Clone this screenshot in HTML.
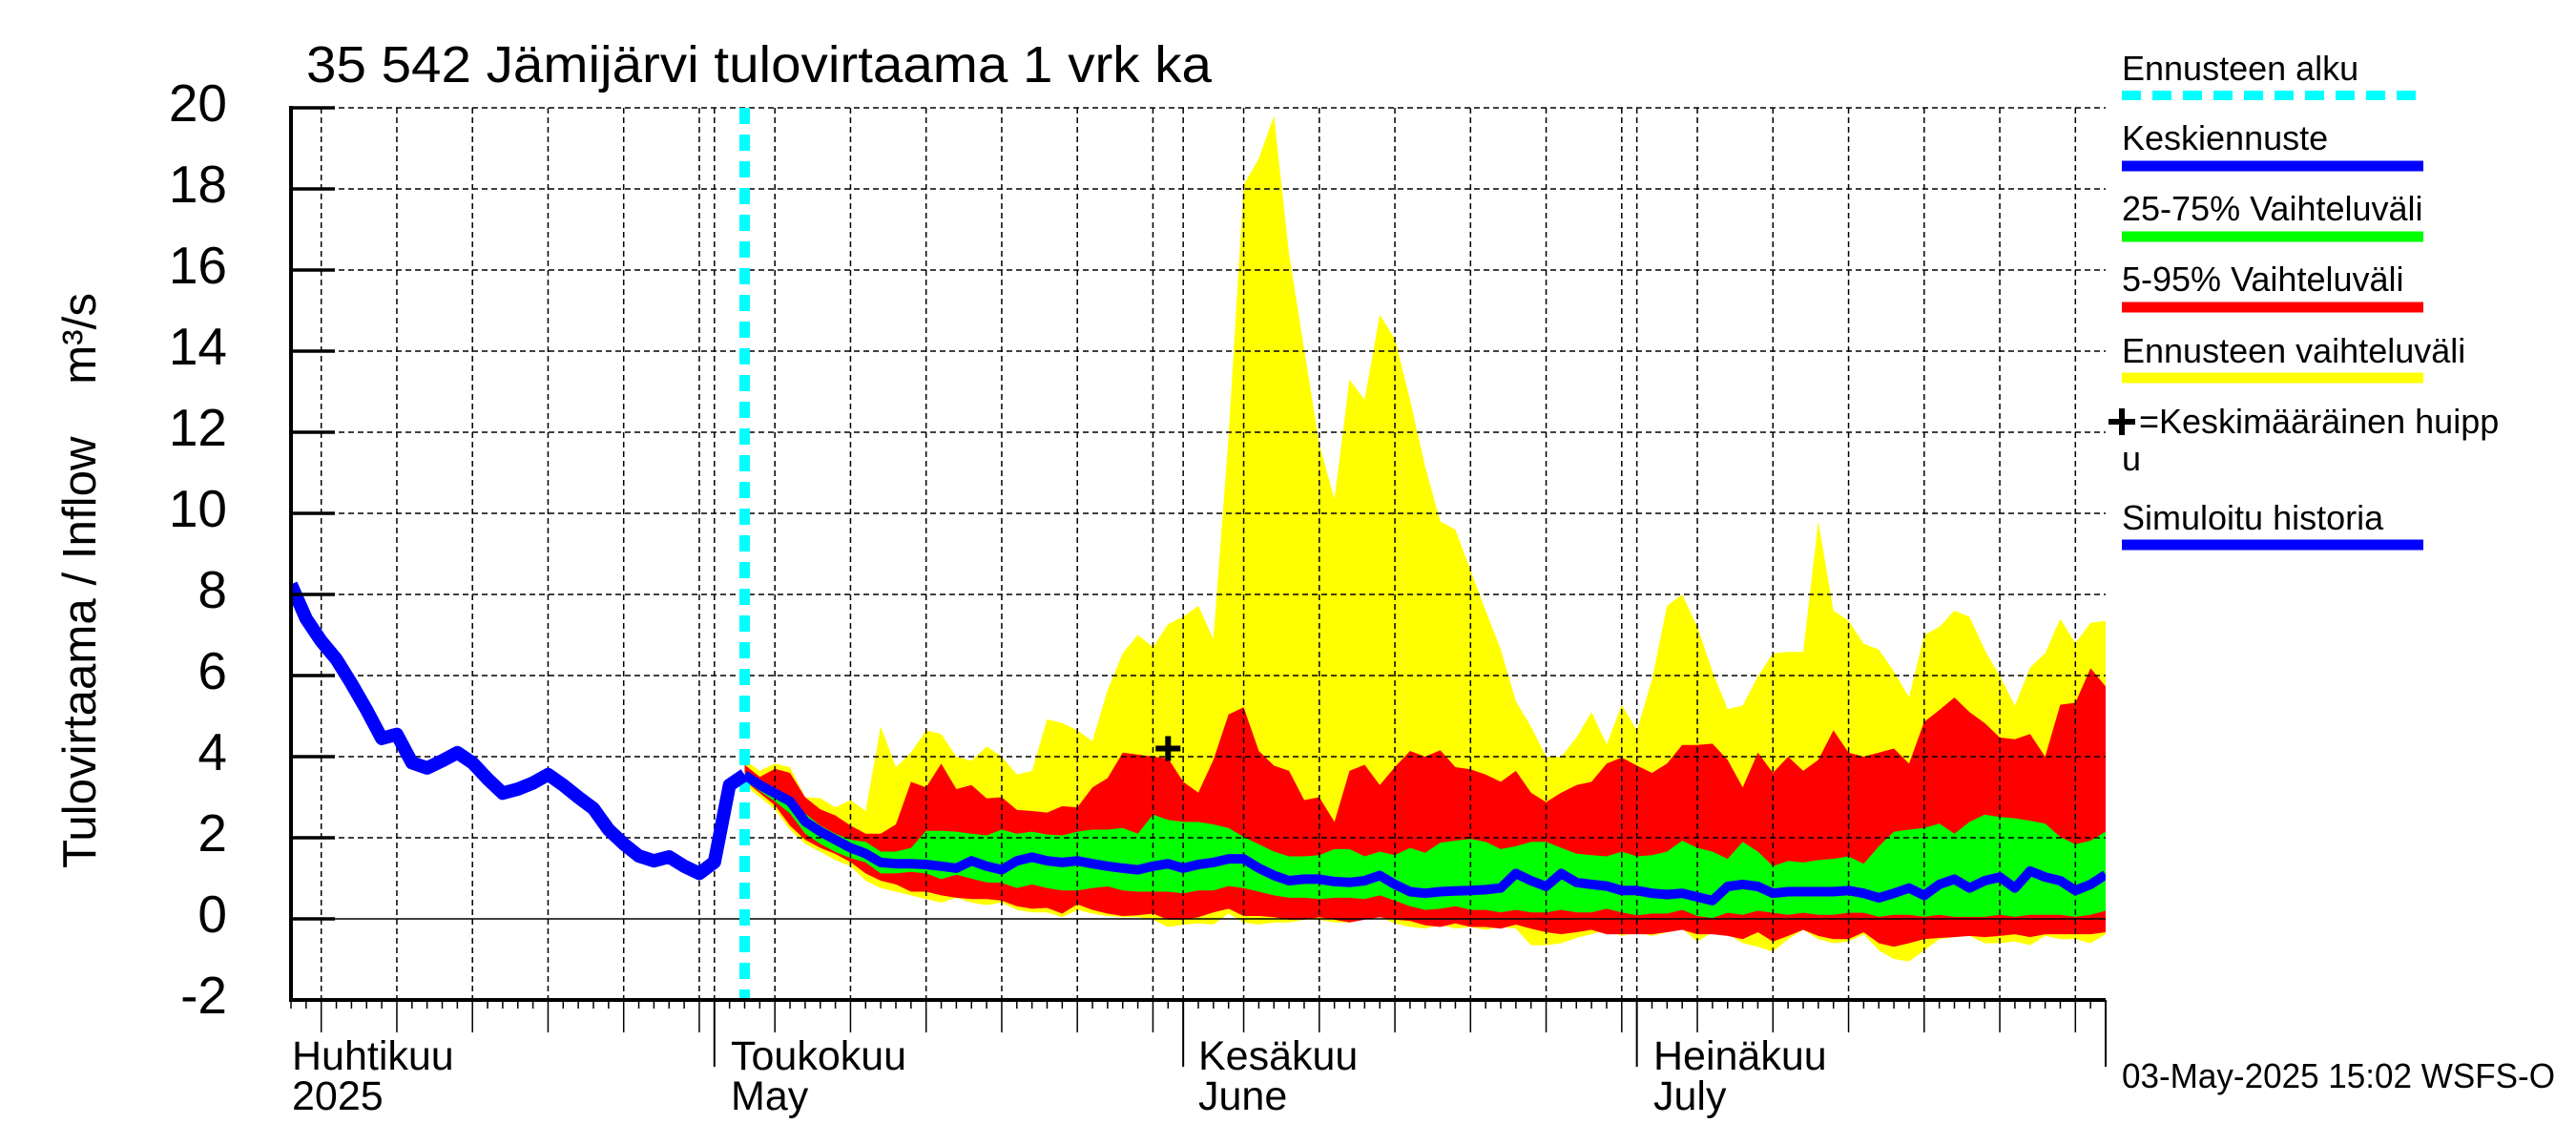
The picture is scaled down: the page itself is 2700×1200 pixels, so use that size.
<!DOCTYPE html>
<html><head><meta charset="utf-8"><style>
html,body{margin:0;padding:0;background:#fff;}
svg{display:block;font-family:"Liberation Sans",Arial,sans-serif;}
</style></head><body>
<svg id="chart" width="2700" height="1200" viewBox="0 0 2700 1200" xmlns="http://www.w3.org/2000/svg">
<defs><clipPath id="plotclip"><rect x="305" y="113" width="1902" height="935"/></clipPath></defs>
<rect x="0" y="0" width="2700" height="1200" fill="#fff"/>
<text x="321" y="86" font-size="54" textLength="949" lengthAdjust="spacingAndGlyphs">35 542 Jämijärvi tulovirtaama 1 vrk ka</text>
<text transform="translate(100,910) rotate(-90)" font-size="49" textLength="603" lengthAdjust="spacingAndGlyphs" xml:space="preserve">Tulovirtaama / Inflow    m³/s</text>
<g id="bands" clip-path="url(#plotclip)"></g>
<g id="grid"></g>
<g id="lines" clip-path="url(#plotclip)"></g>
<g id="axes"></g>
<g id="legend">
 <text x="2224" y="84" font-size="36">Ennusteen alku</text>
 <line x1="2224" y1="100" x2="2540" y2="100" stroke="#00ffff" stroke-width="10" stroke-dasharray="20,12"/>
 <text x="2224" y="157" font-size="36">Keskiennuste</text>
 <line x1="2224" y1="174" x2="2540" y2="174" stroke="#0000ff" stroke-width="11"/>
 <text x="2224" y="231" font-size="36">25-75% Vaihteluväli</text>
 <line x1="2224" y1="248" x2="2540" y2="248" stroke="#00ff00" stroke-width="11"/>
 <text x="2224" y="305" font-size="36">5-95% Vaihteluväli</text>
 <line x1="2224" y1="322" x2="2540" y2="322" stroke="#ff0000" stroke-width="11"/>
 <text x="2224" y="380" font-size="36">Ennusteen vaihteluväli</text>
 <line x1="2224" y1="396" x2="2540" y2="396" stroke="#ffff00" stroke-width="11"/>
 <path d="M2210 442 H2238 M2224 428 V456" stroke="#000" stroke-width="6"/>
 <text x="2242" y="454" font-size="36">=Keskimääräinen huipp</text>
 <text x="2224" y="493" font-size="36">u</text>
 <text x="2224" y="555" font-size="36">Simuloitu historia</text>
 <line x1="2224" y1="571" x2="2540" y2="571" stroke="#0000ff" stroke-width="11"/>
</g>
<text x="2224" y="1140" font-size="36" textLength="454" lengthAdjust="spacingAndGlyphs">03-May-2025 15:02 WSFS-O</text>
<text x="306" y="1121" font-size="43">Huhtikuu</text>
<text x="306" y="1163" font-size="43">2025</text>
<text x="766" y="1121" font-size="43">Toukokuu</text>
<text x="766" y="1163" font-size="43">May</text>
<text x="1256" y="1121" font-size="43">Kesäkuu</text>
<text x="1256" y="1163" font-size="43">June</text>
<text x="1733" y="1121" font-size="43">Heinäkuu</text>
<text x="1733" y="1163" font-size="43">July</text>
</svg>
<script>
// day index: 0 = 1 May 2025
const yTicks = [-2,0,2,4,6,8,10,12,14,16,18,20];
const histStart = -28;
const history = [8.25,7.4,6.85,6.4,5.8,5.15,4.45,4.55,3.85,3.72,3.9,4.1,3.85,3.45,3.1,3.2,3.35,3.56,3.3,3.0,2.72,2.2,1.85,1.55,1.43,1.53,1.3,1.12,1.4,3.3,3.55];
const fcStart = 2;
const fcMax = [3.92,3.65,3.83,3.74,3.0,2.98,2.75,2.93,
2.66,4.74,3.74,4.1,4.65,4.56,4.0,3.9,4.25,4.0,
3.56,3.65,4.92,4.83,4.65,4.38,5.64,6.55,7.0,6.7,
7.27,7.45,7.72,6.9,11.9,18.1,18.75,19.8,16.4,14.05,
11.7,10.35,13.3,12.8,14.9,14.3,12.8,11.15,9.8,9.6,
8.6,7.6,6.64,5.37,4.74,4.0,4.0,4.47,5.1,4.3,
5.28,4.65,5.9,7.72,8.0,7.2,6.1,5.17,5.26,5.98,
6.55,6.58,6.58,9.8,7.6,7.35,6.78,6.64,6.1,5.46,
7.0,7.2,7.6,7.45,6.64,5.98,5.26,6.2,6.55,7.4,
6.8,7.3,7.35];
const fcP95 = [3.8,3.5,3.7,3.6,3.0,2.7,2.55,2.3,
2.1,2.1,2.33,3.38,3.24,3.83,3.2,3.3,2.97,3.0,
2.69,2.66,2.62,2.78,2.75,3.24,3.47,4.1,4.05,4.0,
3.96,3.38,3.11,3.92,5.04,5.22,4.14,3.78,3.65,2.93,
3.0,2.39,3.65,3.8,3.3,3.74,4.14,4.0,4.16,3.74,
3.69,3.56,3.38,3.65,3.11,2.88,3.11,3.3,3.38,3.83,
3.98,3.78,3.6,3.83,4.29,4.29,4.32,3.92,3.24,4.1,
3.6,4.0,3.65,3.92,4.65,4.1,4.0,4.1,4.2,3.83,
4.86,5.15,5.46,5.1,4.83,4.47,4.43,4.56,4.0,5.28,
5.33,6.18,5.73];
const fcP75 = [3.6,3.35,3.2,3.0,2.6,2.3,2.1,1.95,
1.9,1.66,1.66,1.75,2.17,2.17,2.15,2.1,2.06,2.2,
2.1,2.15,2.08,2.06,2.15,2.2,2.2,2.24,2.1,2.57,
2.44,2.39,2.39,2.33,2.24,2.02,1.84,1.66,1.54,1.54,
1.57,1.72,1.72,1.54,1.66,1.57,1.75,1.63,1.88,1.93,
1.97,1.9,1.72,1.79,1.9,1.9,1.75,1.61,1.57,1.54,
1.66,1.54,1.57,1.66,1.93,1.75,1.66,1.48,1.9,1.66,
1.3,1.43,1.39,1.45,1.48,1.54,1.36,1.79,2.15,2.2,
2.24,2.35,2.1,2.39,2.57,2.51,2.48,2.42,2.35,2.02,
1.84,1.93,2.15];
const fcMean = [3.55,3.3,3.1,2.9,2.4,2.15,1.95,1.75,
1.61,1.39,1.36,1.36,1.34,1.3,1.25,1.43,1.3,1.21,
1.43,1.52,1.43,1.39,1.43,1.36,1.3,1.25,1.21,1.3,
1.36,1.25,1.34,1.39,1.48,1.48,1.25,1.07,0.94,0.98,
0.98,0.92,0.9,0.94,1.07,0.85,0.67,0.63,0.67,0.69,
0.7,0.72,0.76,1.12,0.94,0.8,1.12,0.9,0.85,0.81,
0.7,0.7,0.63,0.6,0.63,0.54,0.45,0.8,0.85,0.8,
0.63,0.67,0.67,0.67,0.67,0.7,0.63,0.52,0.63,0.76,
0.58,0.85,0.98,0.76,0.94,1.03,0.76,1.18,1.03,0.94,
0.7,0.85,1.09];
const fcP25 = [3.4,3.15,2.9,2.6,2.1,1.85,1.65,1.5,
1.39,1.12,1.12,1.16,1.12,0.98,1.09,0.99,0.9,0.89,
0.76,0.85,0.76,0.7,0.7,0.76,0.8,0.7,0.67,0.67,
0.67,0.63,0.7,0.7,0.81,0.76,0.67,0.58,0.52,0.52,
0.49,0.52,0.52,0.49,0.58,0.45,0.31,0.22,0.25,0.31,
0.22,0.22,0.16,0.22,0.16,0.16,0.22,0.16,0.16,0.25,
0.16,0.09,0.13,0.13,0.22,0.07,0.02,0.15,0.1,0.2,
0.15,0.1,0.15,0.1,0.1,0.15,0.15,0.05,0.1,0.1,
0.05,0.1,0.05,0.05,0.05,0.1,0.05,0.1,0.1,0.1,
0.05,0.1,0.2];
const fcP5 = [3.4,3.1,2.8,2.3,1.95,1.75,1.6,1.4,
1.12,0.94,0.85,0.67,0.67,0.58,0.52,0.49,0.49,0.45,
0.31,0.25,0.27,0.13,0.36,0.22,0.13,0.07,0.09,0.13,
-0.02,-0.02,0.04,0.16,0.25,0.07,0.07,0.04,-0.02,-0.02,
0.04,-0.02,-0.09,-0.02,0.04,-0.02,-0.05,-0.16,-0.2,-0.11,
-0.2,-0.2,-0.24,-0.14,-0.24,-0.33,-0.38,-0.33,-0.27,-0.38,
-0.38,-0.38,-0.38,-0.33,-0.27,-0.38,-0.38,-0.42,-0.5,-0.33,
-0.56,-0.42,-0.27,-0.42,-0.5,-0.5,-0.33,-0.6,-0.69,-0.6,
-0.5,-0.47,-0.45,-0.42,-0.45,-0.42,-0.38,-0.45,-0.38,-0.38,
-0.38,-0.38,-0.33];
const fcMin = [3.3,3.0,2.7,2.2,1.85,1.65,1.45,1.3,
0.94,0.76,0.67,0.58,0.49,0.4,0.52,0.4,0.34,0.4,
0.22,0.16,0.16,0.04,0.22,0.13,0.07,0.04,0.04,-0.02,
-0.2,-0.14,-0.11,-0.14,0.13,-0.09,-0.14,-0.09,-0.09,-0.02,
-0.02,-0.09,-0.09,0.04,0.04,-0.11,-0.2,-0.24,-0.14,-0.24,
-0.2,-0.27,-0.2,-0.24,-0.65,-0.65,-0.6,-0.47,-0.38,-0.27,
-0.42,-0.33,-0.42,-0.33,-0.24,-0.56,-0.33,-0.38,-0.6,-0.69,
-0.81,-0.5,-0.27,-0.5,-0.6,-0.56,-0.38,-0.78,-0.99,-1.05,
-0.78,-0.5,-0.45,-0.42,-0.6,-0.6,-0.56,-0.65,-0.42,-0.5,
-0.5,-0.6,-0.38];
const peakDay = 30;
const peakValue = 4.2;
const forecastStartDay = 2;
const monthStarts = [0,31,61,92];

const X0 = 305, X1 = 2207, Y0 = 1048, Y1 = 113, DMIN = -28, DMAX = 92, VMIN = -2, VMAX = 20;
function xs(d){ return X0 + (d - DMIN) * (X1 - X0) / (DMAX - DMIN); }
function ys(v){ return Y0 - (v - VMIN) * (Y0 - Y1) / (VMAX - VMIN); }
const NS = 'http://www.w3.org/2000/svg';
function mk(tag, attrs, parent){ const e = document.createElementNS(NS, tag); for (const k in attrs) e.setAttribute(k, attrs[k]); parent.appendChild(e); return e; }

const bands = document.getElementById('bands');
function band(upper, lower, color, name){
  let pts = [];
  upper.forEach((v,i)=>pts.push(xs(fcStart+i).toFixed(1)+','+ys(v).toFixed(1)));
  for (let i = lower.length-1; i >= 0; i--) pts.push(xs(fcStart+i).toFixed(1)+','+ys(lower[i]).toFixed(1));
  const p = mk('polygon', {points: pts.join(' '), fill: color}, bands);
  
  
}
band(fcMax, fcMin, '#ffff00', 'forecast-range-band');
band(fcP95, fcP5, '#ff0000', 'band-5-95');
band(fcP75, fcP25, '#00ff00', 'band-25-75');

const grid = document.getElementById('grid');
const gridDays = [];
const months = [{s:-30,len:30},{s:0,len:31},{s:31,len:30},{s:61,len:31}];
months.forEach(m=>{ [5,10,15,20,25,30].forEach(dd=>{ if (dd<=m.len) gridDays.push(m.s+dd-1); }); gridDays.push(m.s); });
gridDays.forEach(d=>{
  if (d <= DMIN || d >= DMAX) return;
  const l = mk('line', {x1: xs(d), x2: xs(d), y1: Y1, y2: Y0, stroke: '#000', 'stroke-width': 1.5, 'stroke-dasharray': '6,4'}, grid);
  
  
});
yTicks.forEach(v=>{
  if (v === VMIN) return;
  const l = mk('line', {x1: X0, x2: X1, y1: ys(v), y2: ys(v), stroke: '#000', 'stroke-width': 1.5, 'stroke-dasharray': v === 0 ? 'none' : '6,4'}, grid);
  
  
});

const lines = document.getElementById('lines');
const fsl = mk('line', {x1: xs(forecastStartDay), x2: xs(forecastStartDay), y1: Y1, y2: Y0, stroke: '#00ffff', 'stroke-width': 11, 'stroke-dasharray': '17,11'}, lines);


const hp = mk('polyline', {points: history.map((v,i)=>xs(histStart+i).toFixed(1)+','+ys(v).toFixed(1)).join(' '), fill: 'none', stroke: '#0000ff', 'stroke-width': 14, 'stroke-linejoin': 'round'}, lines);


const mp = mk('polyline', {points: fcMean.map((v,i)=>xs(fcStart+i).toFixed(1)+','+ys(v).toFixed(1)).join(' '), fill: 'none', stroke: '#0000ff', 'stroke-width': 10, 'stroke-linejoin': 'round'}, lines);


const px = xs(peakDay), py = ys(peakValue);
const pk = mk('path', {d: `M${px-13} ${py} H${px+13} M${px} ${py-13} V${py+13}`, stroke: '#000', 'stroke-width': 6}, lines);



const axes = document.getElementById('axes');
const ya = mk('line', {x1: X0, x2: X0, y1: Y1-2, y2: Y0+2, stroke: '#000', 'stroke-width': 4}, axes);


const xa = mk('line', {x1: X0-2, x2: X1, y1: Y0, y2: Y0, stroke: '#000', 'stroke-width': 4}, axes);


const ra = mk('line', {x1: X1, x2: X1, y1: Y0, y2: Y0+70, stroke: '#000', 'stroke-width': 2}, axes);


yTicks.forEach(v=>{
  const t = mk('line', {x1: X0, x2: X0+46, y1: ys(v), y2: ys(v), stroke: '#000', 'stroke-width': 3.5}, axes);
  
  
  const lb = mk('text', {x: 238, y: ys(v)+14, 'font-size': 55, 'text-anchor': 'end'}, axes);
  lb.textContent = String(v);
  
  
});
for (let d = DMIN; d < DMAX; d++){
  let len = 9, w = 1.5;
  if (gridDays.includes(d)) len = 34;
  if (monthStarts.includes(d)) { len = 70; w = 2; }
  const t = mk('line', {x1: xs(d), x2: xs(d), y1: Y0, y2: Y0+len, stroke: '#000', 'stroke-width': w}, axes);
  
  
}
</script>
</body></html>
